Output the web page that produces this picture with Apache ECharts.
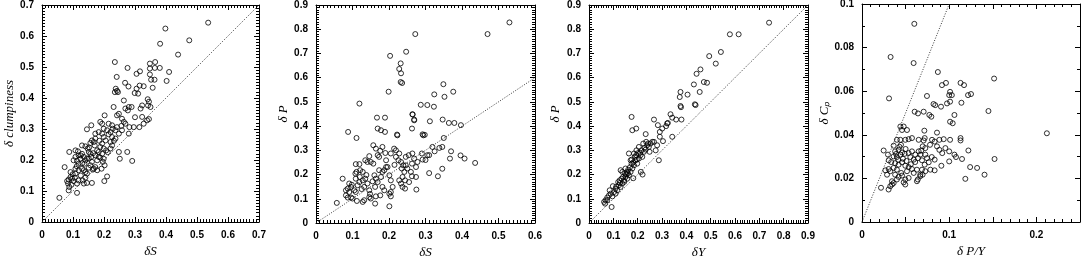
<!DOCTYPE html>
<html><head><meta charset="utf-8">
<script src="https://cdn.jsdelivr.net/npm/echarts@6/dist/echarts.min.js"></script>
<style>html,body{margin:0;padding:0;background:#fff}#c{width:1082px;height:257px}</style>
</head><body><div id="c"></div>
<script>
// Panel 1: deltaS vs delta clumpiness
const clumpVsS = [
[0.536,0.643],[0.398,0.624],[0.381,0.575],[0.475,0.586],[0.439,0.540],[0.235,0.516],[0.365,0.516],[0.348,0.511],[0.276,0.497],[0.364,0.497],[0.380,0.497],[0.348,0.495],[0.410,0.484],[0.316,0.486],[0.305,0.478],[0.348,0.476],[0.352,0.459],[0.363,0.459],[0.402,0.455],[0.241,0.468],[0.268,0.449],[0.279,0.437],[0.315,0.440],[0.328,0.438],[0.357,0.433],[0.238,0.430],[0.305,0.430],[0.242,0.423],
[0.341,0.396],[0.345,0.388],[0.350,0.371],[0.345,0.332],[0.300,0.338],
[0.235,0.419],[0.245,0.419],[0.299,0.416],[0.310,0.414],[0.264,0.392],[0.231,0.371],[0.280,0.371],[0.289,0.371],[0.269,0.366],[0.277,0.360],[0.323,0.376],[0.318,0.366],[0.342,0.376],[0.202,0.344],[0.242,0.344],[0.248,0.349],[0.258,0.333],[0.264,0.323],[0.188,0.323],[0.194,0.317],[0.159,0.312],[0.145,0.299],[0.215,0.317],[0.226,0.312],[0.228,0.301],[0.237,0.296],[0.242,0.306],[0.210,0.296],[0.221,0.290],[0.199,0.301],[0.183,0.290],[0.194,0.285],[0.172,0.285],[0.269,0.317],[0.282,0.306],[0.258,0.296],[0.248,0.285],[0.323,0.339],[0.328,0.317],[0.296,0.306],[0.314,0.306],[0.339,0.328],[0.280,0.285],[0.226,0.274],[0.237,0.269],[0.161,0.263],[0.167,0.258],[0.172,0.269],[0.156,0.255],[0.170,0.247],[0.129,0.247],[0.140,0.244],[0.147,0.237],[0.199,0.274],[0.205,0.263],[0.194,0.253],[0.188,0.242],[0.199,0.237],[0.207,0.231],[0.178,0.231],[0.183,0.226],[0.194,0.220],[0.221,0.258],[0.226,0.247],[0.221,0.237],[0.248,0.226],[0.275,0.226],[0.251,0.204],[0.291,0.197],[0.088,0.226],[0.108,0.231],[0.116,0.228],[0.118,0.215],[0.108,0.210],[0.102,0.199],[0.113,0.197],[0.118,0.188],[0.124,0.204],[0.129,0.220],[0.135,0.210],[0.140,0.199],[0.137,0.188],[0.151,0.226],[0.156,0.220],[0.159,0.210],[0.151,0.204],[0.172,0.215],[0.183,0.210],[0.178,0.199],[0.199,0.204],[0.196,0.194],[0.202,0.183],[0.192,0.172],[0.161,0.194],[0.156,0.183],[0.151,0.175],[0.164,0.169],[0.172,0.177],[0.129,0.172],[0.135,0.167],[0.140,0.161],[0.145,0.156],[0.118,0.167],[0.108,0.172],[0.073,0.177],[0.092,0.161],[0.099,0.154],[0.092,0.145],[0.086,0.137],[0.081,0.132],[0.084,0.124],[0.088,0.113],[0.108,0.156],[0.106,0.143],[0.102,0.132],[0.118,0.134],[0.113,0.124],[0.140,0.143],[0.131,0.134],[0.135,0.124],[0.167,0.172],[0.178,0.167],[0.145,0.126],[0.161,0.126],[0.210,0.147],[0.201,0.132],[0.113,0.094],[0.086,0.102],[0.056,0.078],
[0.125,0.215],[0.145,0.205],[0.165,0.222],[0.188,0.208],[0.212,0.225],[0.232,0.262],[0.185,0.262],[0.112,0.180],[0.097,0.140],[0.125,0.150],[0.152,0.240],[0.215,0.283],[0.256,0.310],[0.095,0.120],[0.130,0.190]
];
// Panel 2: deltaS vs deltaP
const pVsS = [
[0.530,0.828],[0.470,0.780],[0.272,0.780],[0.247,0.707],[0.203,0.690],[0.232,0.659],[0.228,0.636],[0.233,0.618],[0.232,0.582],[0.236,0.578],[0.349,0.573],[0.199,0.542],[0.376,0.542],[0.324,0.531],[0.352,0.521],[0.287,0.488],[0.305,0.487],[0.323,0.480],[0.265,0.448],[0.269,0.427],[0.312,0.420],[0.347,0.427],[0.364,0.413],[0.379,0.413],[0.397,0.404],[0.222,0.365],[0.292,0.366],[0.298,0.364],[0.119,0.493],
[0.319,0.314],[0.338,0.310],[0.325,0.296],[0.310,0.280],[0.350,0.351],[0.346,0.314],[0.370,0.296],[0.396,0.279],[0.407,0.266],[0.436,0.248],[0.367,0.266],[0.346,0.224],[0.334,0.193],[0.310,0.206],[0.300,0.260],[0.305,0.280],
[0.167,0.435],[0.189,0.435],[0.169,0.390],[0.178,0.383],[0.189,0.376],[0.088,0.376],[0.111,0.351],[0.223,0.362],[0.157,0.321],[0.164,0.307],[0.146,0.276],[0.182,0.314],[0.190,0.289],[0.176,0.298],[0.169,0.280],[0.173,0.273],[0.205,0.287],[0.192,0.259],[0.214,0.307],[0.219,0.300],[0.196,0.231],[0.150,0.252],[0.157,0.245],[0.135,0.259],[0.141,0.252],[0.109,0.243],[0.119,0.243],[0.111,0.211],[0.108,0.204],[0.121,0.218],[0.128,0.211],[0.091,0.163],[0.096,0.149],[0.087,0.142],[0.082,0.135],[0.091,0.128],[0.073,0.183],[0.109,0.183],[0.119,0.169],[0.114,0.156],[0.105,0.135],[0.109,0.128],[0.128,0.176],[0.135,0.183],[0.141,0.163],[0.132,0.149],[0.146,0.135],[0.160,0.197],[0.164,0.183],[0.169,0.169],[0.162,0.149],[0.178,0.190],[0.182,0.211],[0.173,0.218],[0.192,0.231],[0.187,0.218],[0.201,0.197],[0.205,0.176],[0.182,0.149],[0.187,0.135],[0.176,0.114],[0.210,0.149],[0.205,0.128],[0.201,0.121],[0.205,0.110],[0.228,0.287],[0.233,0.252],[0.239,0.238],[0.246,0.273],[0.254,0.280],[0.219,0.273],[0.226,0.259],[0.235,0.225],[0.242,0.211],[0.246,0.238],[0.237,0.190],[0.264,0.287],[0.269,0.266],[0.263,0.245],[0.274,0.231],[0.278,0.252],[0.290,0.287],[0.292,0.262],[0.228,0.176],[0.233,0.163],[0.237,0.149],[0.244,0.176],[0.260,0.211],[0.263,0.193],[0.255,0.169],[0.274,0.190],[0.275,0.138],[0.244,0.142],[0.146,0.107],[0.150,0.101],[0.164,0.110],[0.132,0.094],[0.128,0.087],[0.112,0.091],[0.201,0.069],[0.162,0.080],[0.057,0.083],[0.096,0.105],[0.100,0.101],[0.082,0.114],[0.087,0.105],[0.264,0.449],[0.269,0.424],[0.263,0.390],[0.294,0.362],
[0.120,0.190],[0.138,0.198],[0.155,0.172],[0.125,0.140],[0.098,0.158],[0.148,0.120],[0.215,0.240],[0.250,0.225]
];
// Panel 3: deltaY vs deltaP
const pVsY = [
[0.740,0.827],[0.579,0.779],[0.615,0.779],[0.542,0.706],[0.494,0.689],[0.521,0.658],[0.458,0.634],[0.442,0.616],[0.431,0.572],[0.472,0.582],[0.485,0.579],[0.455,0.541],[0.376,0.541],[0.405,0.530],[0.373,0.520],[0.376,0.483],[0.378,0.478],[0.435,0.490],[0.438,0.487],
[0.062,0.087],[0.068,0.094],[0.075,0.105],[0.066,0.080],[0.082,0.114],[0.089,0.121],[0.096,0.110],[0.085,0.135],[0.103,0.128],[0.109,0.142],[0.116,0.135],[0.098,0.152],[0.123,0.156],[0.130,0.149],[0.120,0.169],[0.137,0.163],[0.144,0.176],[0.134,0.183],[0.150,0.190],[0.157,0.183],[0.148,0.204],[0.164,0.197],[0.171,0.211],[0.161,0.220],[0.178,0.225],[0.185,0.238],[0.175,0.245],[0.191,0.259],[0.198,0.245],[0.205,0.266],[0.189,0.273],[0.212,0.280],[0.219,0.273],[0.202,0.289],[0.226,0.294],[0.233,0.303],[0.216,0.300],[0.239,0.321],[0.246,0.314],[0.253,0.328],[0.260,0.335],[0.235,0.335],[0.137,0.211],[0.150,0.225],[0.130,0.218],[0.171,0.259],[0.185,0.287],[0.164,0.287],[0.205,0.314],[0.223,0.328],[0.093,0.066],[0.287,0.259],
[0.075,0.094],[0.109,0.121],[0.126,0.176],[0.157,0.211],[0.194,0.280],[0.243,0.328],[0.249,0.294],[0.213,0.211],[0.220,0.200],[0.182,0.185],
[0.175,0.438],[0.178,0.383],[0.194,0.390],[0.267,0.427],[0.283,0.404],[0.233,0.367],[0.291,0.376],[0.301,0.390],[0.317,0.400],[0.324,0.413],[0.335,0.449],[0.342,0.435],[0.358,0.427],[0.321,0.411],[0.380,0.427],[0.342,0.356],[0.267,0.335],[0.291,0.356],[0.304,0.338],[0.280,0.321],[0.274,0.300],
[0.140,0.190],[0.127,0.165],[0.112,0.150],[0.153,0.200],[0.168,0.230],[0.182,0.250],[0.197,0.262],[0.210,0.290],[0.228,0.310],[0.145,0.170],[0.160,0.205],[0.176,0.262],[0.195,0.300]
];
// Panel 4: delta P/Y vs delta Cp
const cpVsPY = [
[0.060,0.0909],[0.0328,0.0757],[0.0592,0.0729],[0.087,0.0688],[0.1515,0.0658],[0.145,0.0509],[0.152,0.0289],[0.132,0.0248],[0.1405,0.0217],[0.212,0.0407],[0.106,0.0309],
[0.0218,0.0157],[0.0305,0.0149],[0.0324,0.0164],[0.0344,0.0172],[0.0496,0.0172],[0.063,0.0187],[0.064,0.0195],[0.0668,0.021],[0.0695,0.0217],
[0.031,0.0567],[0.0917,0.0628],[0.0963,0.0638],[0.113,0.0638],[0.117,0.0628],[0.101,0.0597],[0.100,0.0582],[0.103,0.0582],[0.0745,0.0578],[0.082,0.0541],[0.084,0.0536],[0.0906,0.0529],[0.0975,0.0544],[0.101,0.0552],[0.114,0.0547],[0.1216,0.0582],[0.125,0.0587],[0.0604,0.0506],[0.0642,0.0498],[0.0707,0.0506],[0.0772,0.0491],[0.0795,0.0483],[0.106,0.0491],[0.101,0.046],[0.104,0.0453],[0.044,0.0438],[0.0478,0.0438],[0.0459,0.0422],[0.0516,0.0422],[0.0715,0.0419],[0.086,0.041],
[0.040,0.0377],[0.044,0.0377],[0.0497,0.0377],[0.0535,0.0380],[0.0573,0.0385],[0.0363,0.035],[0.0447,0.0354],[0.065,0.0377],[0.0707,0.0374],[0.0719,0.0385],[0.0803,0.0377],[0.0833,0.0369],[0.0887,0.0377],[0.0937,0.038],[0.101,0.0377],[0.113,0.0385],[0.113,0.0374],[0.0696,0.0347],[0.0726,0.0339],[0.068,0.0328],[0.078,0.0354],[0.086,0.0347],[0.0887,0.0331],[0.0956,0.0339],[0.100,0.0324],[0.092,0.0316],[0.122,0.0328],
[0.0248,0.0328],[0.0298,0.0309],[0.0306,0.0283],[0.038,0.0324],[0.042,0.0331],[0.0459,0.0319],[0.049,0.0313],[0.040,0.0298],[0.044,0.0309],[0.0363,0.0301],[0.0535,0.0316],[0.0573,0.0324],[0.0612,0.0309],[0.0554,0.0298],[0.0593,0.0286],[0.065,0.0324],[0.0669,0.0309],[0.0642,0.0293],[0.0688,0.0283],[0.0726,0.0309],[0.0745,0.0293],[0.0765,0.0274],[0.0719,0.0263],[0.080,0.0298],[0.0833,0.0286],
[0.038,0.027],[0.042,0.0263],[0.0459,0.0274],[0.0497,0.0258],[0.0363,0.0248],[0.040,0.024],[0.0535,0.0252],[0.0573,0.0243],[0.0516,0.0233],[0.0593,0.0225],[0.063,0.0240],[0.0688,0.024],[0.0726,0.0233],[0.0669,0.0217],[0.0784,0.024],[0.0833,0.0237],[0.091,0.0258],[0.100,0.0278],[0.1078,0.0298],[0.1147,0.0289],[0.124,0.0252],[0.1185,0.0198],
[0.0268,0.0237],[0.0306,0.0243],[0.0325,0.0233],[0.0287,0.0217],[0.038,0.0217],[0.042,0.0207],[0.0459,0.0213],[0.040,0.0195],[0.0497,0.0195],[0.0535,0.0202],[0.0478,0.0182],[0.0344,0.0187],[0.0363,0.0179],
[0.043,0.0345],[0.047,0.0290],[0.051,0.0280],[0.056,0.0265],[0.061,0.0275],[0.045,0.0225],[0.050,0.0335],[0.039,0.0312],[0.0335,0.0275],[0.0415,0.0285]
];
const panelData = [clumpVsS, pVsS, pVsY, cpVsPY];
const xNames = ['δS', 'δS', 'δY', 'δ P/Y'];
const yNames = ['δ clumpiness', 'δ P', 'δ P', 'δ Cₚ'];
const xMax = [0.7, 0.6, 0.9, 0.25];
const yMax = [0.7, 0.9, 0.9, 0.1];
const xStep = [0.1, 0.1, 0.1, 0.05];
const yStep = [0.1, 0.1, 0.1, 0.02];
const xMinor = [10, 10, 10, 5];
const yMinor = [10, 10, 10, 2];
const refLines = [[[0,0],[0.7,0.7]], [[0,0],[0.6,0.6]], [[0,0],[0.9,0.9]], [[0,0],[0.1,0.1]]];

const boxes = [
  {left:42, top:5, width:217, height:217},
  {left:316, top:5, width:219, height:218},
  {left:589, top:5, width:219, height:218},
  {left:862, top:4, width:218, height:218}
];
const yNameGap = [21, 24, 27, 29];

function fmt(i, isX){
  return function(v){
    if (i === 3 && isX) {
      const t = Math.round(v*100);
      if (t % 10 !== 0) return '';
      return String(t/100);
    }
    return String(+v.toFixed(2));
  };
}
function makeAxis(i, g, isX, mirror){
  const a = {
    gridIndex:g, type:'value', min:0,
    max: isX ? xMax[i] : yMax[i],
    interval: isX ? xStep[i] : yStep[i],
    splitLine:{show:false}, minorSplitLine:{show:false},
    axisLine:{show:true, onZero:false, lineStyle:{color:'#000', width:1}},
    axisTick:{show:true, inside:true, length:5, lineStyle:{color:'#000', width:1}},
    minorTick:{show:true, splitNumber: isX ? xMinor[i] : yMinor[i], length:3, lineStyle:{color:'#000', width:1}},
    axisLabel:{show:!mirror, color:'#000', fontSize:10, fontWeight:'bold', formatter: fmt(i, isX)}
  };
  if (mirror) {
    a.position = isX ? 'top' : 'right';
  } else {
    a.name = isX ? xNames[i] : yNames[i];
    a.nameLocation = 'middle';
    a.nameGap = isX ? 17 : yNameGap[i];
    a.nameTextStyle = {fontStyle:'italic', fontSize:13, color:'#000', fontFamily:'Liberation Serif'};
  }
  return a;
}
const grids = [], xAxes = [], yAxes = [], series = [];
for (let i = 0; i < 4; i++) {
  const g = grids.length;
  grids.push(Object.assign({outerBoundsMode:'none', containLabel:false}, boxes[i]));
  xAxes.push(makeAxis(i, g, true, false));
  yAxes.push(makeAxis(i, g, false, false));
  const ai = xAxes.length - 1;
  series.push({type:'line', xAxisIndex:ai, yAxisIndex:ai, data:refLines[i], symbol:'none', silent:true,
    lineStyle:{color:'#222', width:0.9, type:[1,1.6]}});
  series.push({type:'scatter', xAxisIndex:ai, yAxisIndex:ai, data:panelData[i], symbol:'circle', symbolSize:5,
    large:false,
    itemStyle:{color:'rgba(0,0,0,0)', borderColor:'#000', borderWidth:1}});
  const gm = grids.length;
  grids.push(Object.assign({outerBoundsMode:'none', containLabel:false}, boxes[i]));
  xAxes.push(makeAxis(i, gm, true, true));
  yAxes.push(makeAxis(i, gm, false, true));
}
const chart = echarts.init(document.getElementById('c'));
chart.setOption({animation:false, backgroundColor:'#fff', grid:grids, xAxis:xAxes, yAxis:yAxes, series:series});
</script></body></html>
